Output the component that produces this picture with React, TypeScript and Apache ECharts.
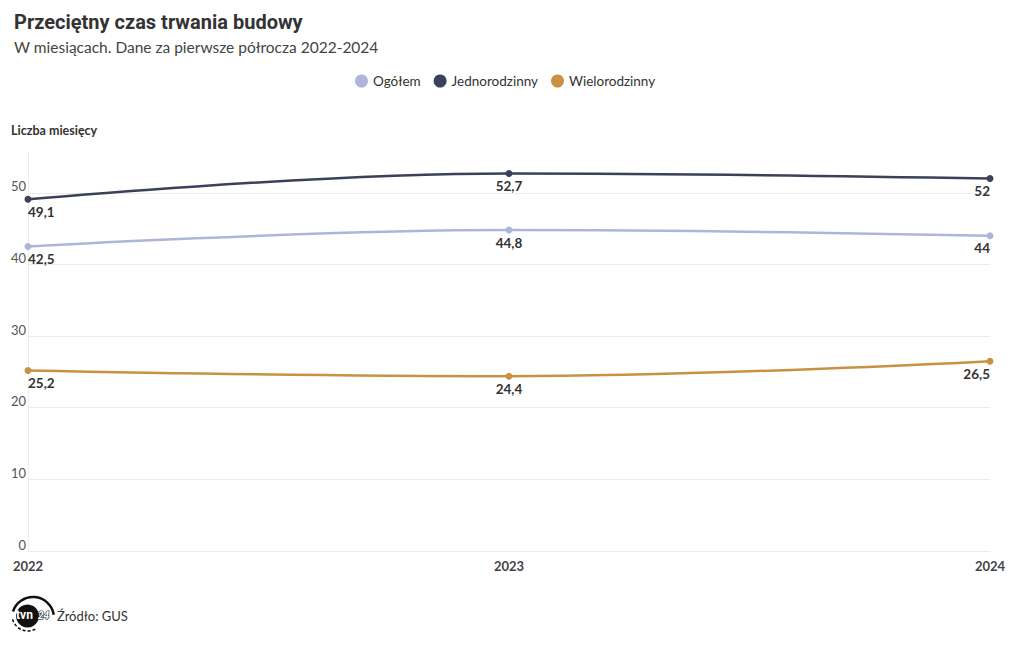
import React, { useEffect, useRef } from "react";
import * as echarts from "echarts";

const years = ["2022", "2023", "2024"];
const ogolem = [42.5, 44.8, 44];
const jednorodzinny = [49.1, 52.7, 52];
const wielorodzinny = [25.2, 24.4, 26.5];
const seriesNames = ["Ogółem", "Jednorodzinny", "Wielorodzinny"];
const colors = ["#adb6d8", "#3a4158", "#c99242"];

const fmt = (v: number) => String(v).replace(".", ",");

function makeData(vals: number[]) {
  return vals.map((v, i) => ({
    value: v,
    label: {
      align: i === 0 ? "left" : i === vals.length - 1 ? "right" : "center",
    },
  }));
}

export default function App() {
  const ref = useRef<HTMLDivElement>(null);
  useEffect(() => {
    if (!ref.current) return;
    const chart = echarts.init(ref.current, undefined, { renderer: "svg" });
    const allVals = [ogolem, jednorodzinny, wielorodzinny];
    chart.setOption({
      animation: false,
      backgroundColor: "#ffffff",
      title: [
        {
          text: "Przeciętny czas trwania budowy",
          left: 9,
          top: 7,
          textStyle: {
            fontFamily: "Roboto",
            fontWeight: "bold",
            fontSize: 20,
            color: "#333333",
          },
        },
        {
          text: "W miesiącach. Dane za pierwsze półrocza 2022-2024",
          left: 9,
          top: 34,
          textStyle: {
            fontFamily: "Lato",
            fontWeight: "normal",
            fontSize: 15.5,
            color: "#444444",
          },
        },
      ],
      legend: {
        top: 69,
        left: 350,
        icon: "circle",
        itemWidth: 13,
        itemHeight: 13,
        itemGap: 13,
        data: seriesNames,
        textStyle: { fontFamily: "Lato", fontSize: 13.5, color: "#333333" },
      },
      grid: { left: 28, right: 30, top: 152, bottom: 99, containLabel: false },
      xAxis: {
        type: "category",
        data: years,
        boundaryGap: false,
        axisLine: { show: true, lineStyle: { color: "#ececec" } },
        axisTick: { show: false },
        axisLabel: {
          margin: 8,
          fontFamily: "Lato",
          fontWeight: "bold",
          fontSize: 13,
          color: "#444444",
        },
        splitLine: { show: false },
      },
      yAxis: {
        type: "value",
        min: 0,
        max: 55.7,
        interval: 10,
        name: "Liczba miesięcy",
        nameLocation: "end",
        nameGap: 15,
        nameTextStyle: {
          align: "left",
          padding: [0, 0, 0, -17],
          fontFamily: "Lato",
          fontWeight: "bold",
          fontSize: 12.5,
          color: "#333333",
        },
        axisLine: { show: true, lineStyle: { color: "#ececec" } },
        axisTick: { show: false },
        axisLabel: {
          showMaxLabel: false,
          margin: 2,
          verticalAlign: "bottom",
          fontFamily: "Lato",
          fontSize: 13,
          color: "#555555",
        },
        splitLine: { show: true, showMaxLine: false, lineStyle: { color: "#ececec" } },
      },
      series: seriesNames.map((name, i) => ({
        name,
        type: "line",
        data: makeData(allVals[i]),
        smooth: 0.4,
        smoothMonotone: "x",
        symbol: "circle",
        symbolSize: 7,
        color: colors[i],
        lineStyle: { width: 2.5, color: colors[i] },
        itemStyle: { color: colors[i] },
        label: {
          show: true,
          position: "bottom",
          distance: 2,
          formatter: (p: any) => fmt(p.value),
          fontFamily: "Lato",
          fontWeight: "bold",
          fontSize: 13.5,
          color: "#333333",
        },
        emphasis: { disabled: true },
      })),
      graphic: [
        { type: "arc", silent: true, shape: { cx: 33, cy: 618, r: 21, startAngle: Math.PI * 1.1, endAngle: Math.PI * 1.95 }, style: { stroke: "#111", lineWidth: 2.5, fill: null } },
        { type: "arc", silent: true, shape: { cx: 28, cy: 615, r: 16, startAngle: Math.PI * 0.35, endAngle: Math.PI * 0.95 }, style: { stroke: "#111", lineWidth: 1.5, fill: null, lineDash: [3, 2] } },
        { type: "circle", silent: true, shape: { cx: 27.5, cy: 616, r: 11.5 }, style: { fill: "#111" } },
        { type: "text", silent: true, x: 16, y: 609, style: { text: "tvn", fill: "#fff", font: "bold 12px Roboto" } },
        { type: "text", silent: true, x: 38, y: 610, style: { text: "24", fill: "#fff", stroke: "#111", lineWidth: 1.2, font: "italic bold 10px Roboto" } },
        {
          type: "text",
          left: 57,
          top: 609,
          style: { text: "Źródło: GUS", fill: "#333333", font: "13px Lato" },
        },
      ],
    });
    return () => chart.dispose();
  }, []);
  return (
    <div
      ref={ref}
      style={{ position: "fixed", left: 0, top: 0, width: 1020, height: 650 }}
    />
  );
}
